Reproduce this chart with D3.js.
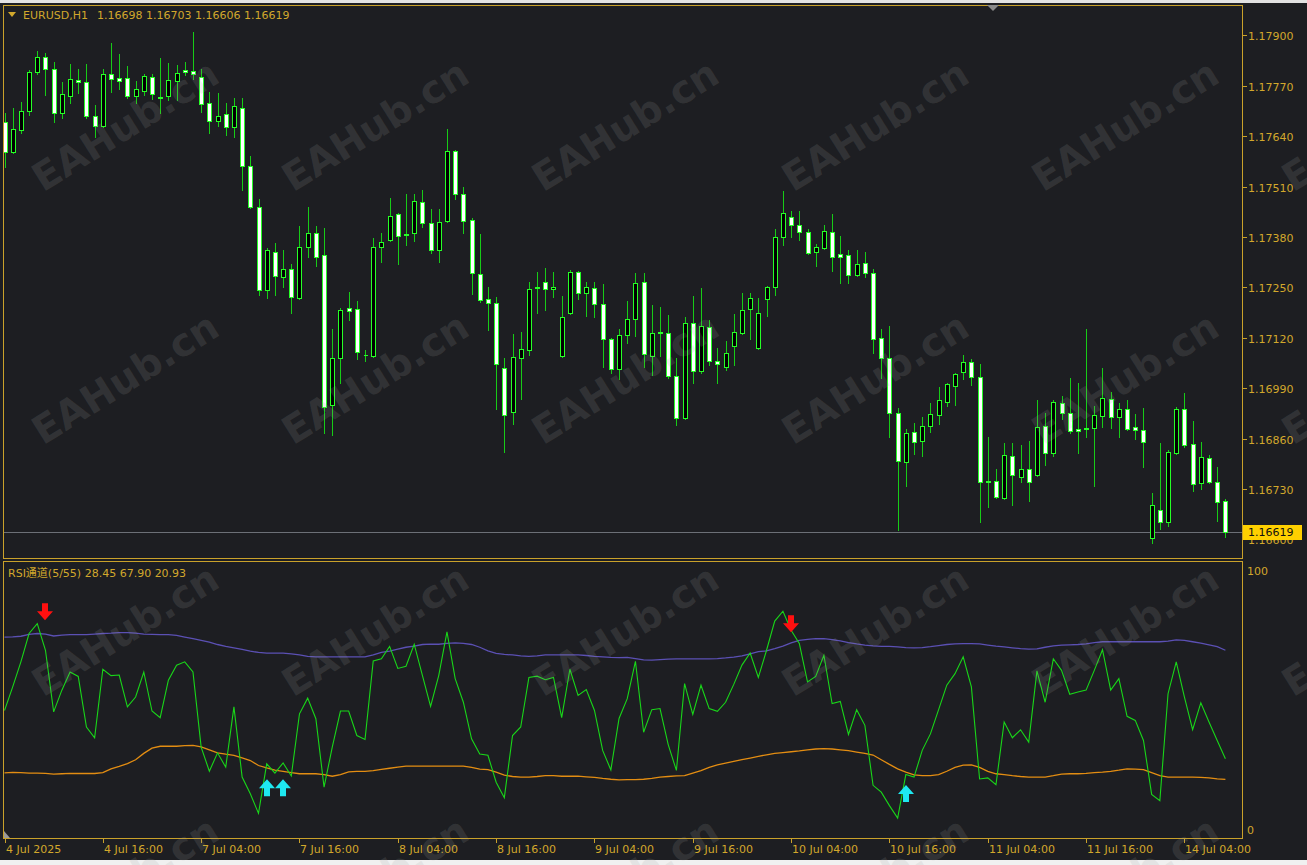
<!DOCTYPE html>
<html>
<head>
<meta charset="utf-8">
<script src="https://cdn.jsdelivr.net/npm/d3@7"></script>
<style>
html, body { margin: 0; padding: 0; background: #1d1e22; overflow: hidden; }
svg { display: block; }
text { font-family: "DejaVu Sans", "Noto Sans CJK SC", sans-serif; }
</style>
</head>
<body>
<div id="chart"></div>
<script>
var symbolTitle = 'EURUSD,H1';
var rsiTitle = 'RSI通道(5/55)';
var watermarkText = 'EAHub.cn';

// EURUSD H1 bars, 4 Jul 2025 04:00 .. 14 Jul 2025 09:00
var opens = [
  1.17676,1.17599,1.17656,1.17705,1.17805,1.17844,1.17813,1.17700,1.17743,1.17785,
  1.17780,1.17692,1.17666,1.17800,1.17790,1.17790,1.17743,1.17756,1.17792,1.17741,
  1.17743,1.17782,1.17810,1.17808,1.17792,1.17725,1.17679,1.17697,1.17663,1.17712,
  1.17563,1.17457,1.17243,1.17341,1.17277,1.17297,1.17222,1.17354,1.17390,1.17333,
  1.16946,1.17068,1.17197,1.17194,1.17076,1.17073,1.17354,1.17372,1.17439,1.17387,
  1.17390,1.17470,1.17416,1.17346,1.17421,1.17601,1.17491,1.17424,1.17284,1.17220,
  1.17210,1.17042,1.16928,1.17068,1.17088,1.17251,1.17264,1.17246,1.17073,1.17184,
  1.17290,1.17235,1.17248,1.17207,1.17117,1.17039,1.17127,1.17168,1.17264,1.17073,
  1.17135,1.17132,1.17021,1.16913,1.17158,1.17034,1.17148,1.17060,1.17045,1.17099,
  1.17132,1.17194,1.17094,1.17220,1.17251,1.17380,1.17431,1.17411,1.17393,1.17341,
  1.17351,1.17393,1.17336,1.17333,1.17282,1.17313,1.17287,1.17119,1.17068,1.16926,
  1.16800,1.16877,1.16854,1.16892,1.16921,1.16954,1.16996,1.17032,1.17058,1.17019,
  1.16748,1.16750,1.16707,1.16815,1.16761,1.16781,1.16766,1.16892,1.16823,1.16952,
  1.16926,1.16885,1.16885,1.16887,1.16918,1.16962,1.16916,1.16936,1.16890,1.16882,
  1.16604,1.16676,1.16645,1.16823,1.16936,1.16846,1.16745,1.16810,1.16748,1.16698
];
var highs = [
  1.17700,1.17712,1.17728,1.17810,1.17859,1.17854,1.17831,1.17780,1.17826,1.17813,
  1.17826,1.17720,1.17813,1.17880,1.17852,1.17821,1.17782,1.17800,1.17800,1.17841,
  1.17828,1.17823,1.17831,1.17908,1.17813,1.17754,1.17751,1.17725,1.17738,1.17738,
  1.17589,1.17478,1.17351,1.17364,1.17346,1.17310,1.17408,1.17457,1.17408,1.17403,
  1.17143,1.17197,1.17238,1.17215,1.17088,1.17377,1.17390,1.17480,1.17442,1.17491,
  1.17491,1.17501,1.17452,1.17452,1.17658,1.17604,1.17509,1.17429,1.17387,1.17251,
  1.17225,1.17068,1.17130,1.17135,1.17264,1.17290,1.17300,1.17290,1.17228,1.17295,
  1.17292,1.17264,1.17264,1.17259,1.17119,1.17143,1.17215,1.17287,1.17287,1.17204,
  1.17199,1.17179,1.17068,1.17173,1.17228,1.17248,1.17166,1.17094,1.17112,1.17181,
  1.17235,1.17235,1.17222,1.17253,1.17400,1.17498,1.17447,1.17447,1.17400,1.17362,
  1.17411,1.17439,1.17382,1.17346,1.17346,1.17341,1.17297,1.17143,1.17150,1.16939,
  1.16885,1.16900,1.16916,1.16952,1.16993,1.17003,1.17029,1.17076,1.17065,1.17052,
  1.16864,1.16781,1.16848,1.16848,1.16843,1.16854,1.16959,1.16926,1.16959,1.16970,
  1.17016,1.17003,1.17143,1.16944,1.17042,1.16980,1.16952,1.16959,1.16923,1.16939,
  1.16720,1.16848,1.16830,1.16941,1.16978,1.16905,1.16851,1.16818,1.16787,1.16703
];
var lows = [
  1.17560,1.17596,1.17648,1.17694,1.17800,1.17746,1.17676,1.17687,1.17725,1.17751,
  1.17687,1.17638,1.17663,1.17754,1.17761,1.17738,1.17725,1.17746,1.17736,1.17700,
  1.17733,1.17733,1.17798,1.17787,1.17702,1.17648,1.17666,1.17643,1.17638,1.17501,
  1.17455,1.17230,1.17222,1.17230,1.17251,1.17184,1.17220,1.17328,1.17305,1.16874,
  1.16869,1.17003,1.17166,1.17065,1.17060,1.17070,1.17315,1.17369,1.17310,1.17359,
  1.17369,1.17406,1.17338,1.17315,1.17418,1.17478,1.17390,1.17233,1.17212,1.17140,
  1.16936,1.16825,1.16898,1.16962,1.17076,1.17184,1.17192,1.17225,1.17070,1.17181,
  1.17220,1.17176,1.17174,1.17045,1.17029,1.17014,1.17106,1.17124,1.17045,1.17024,
  1.17073,1.17016,1.16895,1.16910,1.17003,1.17029,1.17050,1.17003,1.17037,1.17050,
  1.17130,1.17117,1.17091,1.17176,1.17230,1.17359,1.17380,1.17372,1.17336,1.17305,
  1.17349,1.17292,1.17261,1.17261,1.17279,1.17277,1.17081,1.17016,1.16864,1.16624,
  1.16738,1.16820,1.16815,1.16877,1.16898,1.16944,1.16946,1.17014,1.16998,1.16645,
  1.16684,1.16707,1.16704,1.16689,1.16748,1.16699,1.16763,1.16792,1.16815,1.16910,
  1.16875,1.16823,1.16864,1.16738,1.16890,1.16887,1.16864,1.16882,1.16859,1.16787,
  1.16591,1.16627,1.16634,1.16820,1.16838,1.16725,1.16730,1.16745,1.16648,1.16606
];
var closes = [
  1.17599,1.17658,1.17705,1.17805,1.17844,1.17813,1.17700,1.17749,1.17787,1.17780,
  1.17692,1.17666,1.17800,1.17787,1.17782,1.17743,1.17761,1.17795,1.17749,1.17738,
  1.17785,1.17803,1.17805,1.17800,1.17723,1.17679,1.17692,1.17663,1.17718,1.17563,
  1.17457,1.17243,1.17346,1.17279,1.17297,1.17225,1.17354,1.17390,1.17328,1.16941,
  1.17068,1.17192,1.17189,1.17083,1.17076,1.17354,1.17367,1.17434,1.17382,1.17385,
  1.17473,1.17416,1.17346,1.17418,1.17601,1.17491,1.17421,1.17287,1.17217,1.17210,
  1.17052,1.16921,1.17070,1.17091,1.17246,1.17248,1.17246,1.17251,1.17173,1.17290,
  1.17235,1.17251,1.17207,1.17117,1.17039,1.17127,1.17168,1.17261,1.17078,1.17132,
  1.17132,1.17021,1.16913,1.17158,1.17034,1.17150,1.17060,1.17052,1.17081,1.17135,
  1.17192,1.17222,1.17184,1.17251,1.17380,1.17442,1.17411,1.17393,1.17338,1.17354,
  1.17395,1.17328,1.17328,1.17282,1.17310,1.17287,1.17117,1.17068,1.16926,1.16802,
  1.16874,1.16851,1.16892,1.16923,1.16959,1.17001,1.17027,1.17058,1.17019,1.16748,
  1.16750,1.16709,1.16818,1.16766,1.16781,1.16748,1.16890,1.16823,1.16954,1.16926,
  1.16880,1.16880,1.16887,1.16921,1.16965,1.16916,1.16936,1.16885,1.16882,1.16851,
  1.16689,1.16645,1.16825,1.16936,1.16843,1.16743,1.16812,1.16748,1.16697,1.16619
];

// RSI channel indicator
var rsi = [
  46.0,54.6,63.7,74.0,77.6,67.9,45.5,53.4,60.0,58.4,
  40.0,36.1,61.0,58.7,58.9,47.3,50.9,60.0,45.8,43.4,
  57.0,62.5,63.7,60.0,32.7,23.9,30.6,25.4,47.3,21.8,
  15.7,8.6,26.6,23.2,26.9,22.2,44.8,50.5,43.0,18.1,
  32.7,45.8,45.8,36.9,35.5,64.0,64.8,69.3,61.3,62.1,
  70.1,58.8,47.5,58.8,74.6,57.6,49.0,35.7,30.2,29.7,
  19.9,14.3,36.9,40.0,58.0,58.5,57.2,58.0,43.4,61.0,
  51.5,53.6,46.0,31.5,24.4,43.1,50.3,63.9,38.1,46.3,
  46.7,33.6,24.2,55.8,44.6,55.2,46.7,45.7,49.0,55.5,
  62.5,66.9,58.0,67.9,78.5,82.1,75.2,70.4,56.4,58.4,
  66.1,48.5,49.3,37.3,46.3,40.6,18.8,16.3,11.4,6.9,
  22.7,21.8,31.5,37.5,46.3,55.2,59.4,65.5,54.6,21.1,
  21.5,19.0,41.8,36.1,39.0,34.5,60.4,49.0,64.8,60.6,
  51.9,52.7,53.4,60.6,68.1,53.4,57.6,43.9,42.4,35.1,
  15.5,13.2,52.1,63.7,50.9,39.0,48.8,41.8,35.1,28.45
];
var upperBand = [
  72.7,72.8,73.0,73.7,74.0,73.8,73.1,73.4,73.6,73.6,
  73.6,73.8,74.0,74.1,74.3,74.3,74.1,73.8,73.7,73.6,
  73.6,73.3,72.7,72.1,71.5,70.9,70.0,69.3,68.8,68.2,
  67.6,67.1,66.9,66.9,66.9,66.6,66.2,65.7,65.5,65.5,
  65.5,65.5,65.5,65.5,65.5,66.2,67.1,67.6,68.3,69.0,
  69.4,70.0,70.1,70.1,70.4,70.6,70.4,70.0,69.0,67.7,
  66.8,66.4,66.2,65.9,65.7,65.9,66.2,66.2,66.2,66.2,
  66.2,66.0,65.7,65.5,65.3,65.2,65.3,64.9,64.4,64.3,
  64.5,64.7,64.8,64.8,64.8,64.8,64.8,64.9,65.1,65.4,
  65.9,66.6,67.4,67.7,68.5,69.4,70.6,71.5,71.9,72.1,
  72.1,71.8,71.3,70.7,70.2,69.8,69.5,69.3,69.3,69.1,
  68.9,68.8,68.9,69.2,69.6,70.0,70.2,70.3,70.3,70.2,
  69.8,69.4,69.1,68.8,68.5,68.3,68.4,69.0,69.5,69.8,
  69.9,70.0,70.2,70.7,71.0,71.0,71.0,71.0,71.0,71.0,
  71.0,71.0,71.2,71.7,71.5,71.0,70.5,69.9,69.2,67.90
];
var lowerBand = [
  23.3,23.5,23.4,23.2,23.2,23.1,22.9,23.0,23.1,23.1,
  23.1,23.1,23.4,24.8,25.7,26.7,28.1,30.4,32.3,33.0,
  33.0,33.0,33.2,33.3,32.8,31.7,30.6,30.1,29.7,28.8,
  27.8,26.0,25.1,24.3,23.9,23.4,23.0,23.0,23.0,22.7,
  22.1,22.7,23.7,23.9,23.9,24.1,24.6,25.0,25.4,25.8,
  25.8,25.8,25.8,25.8,25.8,25.8,25.8,25.3,24.7,24.5,
  23.6,22.5,22.0,21.8,21.8,22.0,22.3,22.3,22.1,22.1,
  22.1,21.9,21.7,21.3,21.0,20.8,20.9,20.9,21.0,21.3,
  21.8,22.0,22.2,22.3,23.2,24.1,25.3,26.2,26.9,27.5,
  28.1,28.7,29.3,29.9,30.4,30.7,31.0,31.3,31.7,32.0,
  32.1,32.0,31.7,31.4,30.9,30.4,29.8,28.1,26.4,24.8,
  23.6,22.6,22.3,22.3,22.7,23.9,25.3,26.1,26.2,25.3,
  23.9,23.0,22.7,22.3,22.0,21.8,21.8,21.8,22.3,22.9,
  23.0,23.0,23.1,23.4,23.6,23.9,24.3,24.8,24.7,24.5,
  23.4,22.3,21.8,21.8,21.8,21.8,21.7,21.5,21.1,20.93
];

var sellArrowBars = [5, 96];
var sellArrowLevels = [78.8, 74.5];
var buyArrowBars = [32, 34, 110];
var buyArrowLevels = [21.0, 21.0, 18.9];

var priceTicks = [1.17900, 1.17770, 1.17640, 1.17510, 1.17380, 1.17250, 1.17120, 1.16990, 1.16860, 1.16730, 1.16600];
var rsiTicks = [100, 0];
var timeTickBars = [0, 12, 24, 36, 48, 60, 72, 84, 96, 108, 120, 132, 144];
var timeTickLabels = ['4 Jul 2025', '4 Jul 16:00', '7 Jul 04:00', '7 Jul 16:00', '8 Jul 04:00', '8 Jul 16:00',
  '9 Jul 04:00', '9 Jul 16:00', '10 Jul 04:00', '10 Jul 16:00', '11 Jul 04:00', '11 Jul 16:00', '14 Jul 04:00'];

var W = 1307, H = 865;
var gold = '#d2a82c', frame = '#c9a12a';
var plotL = 3.5, plotR = 1242.5;
var mainTop = 5.5, mainBot = 558.5;
var subTop = 561.5, subBot = 838.5;

var svg = d3.select('#chart').append('svg').attr('width', W).attr('height', H);

svg.append('rect').attr('width', W).attr('height', H).attr('fill', '#1d1e22');
svg.append('rect').attr('width', W).attr('height', 3).attr('fill', '#e2e2e2');
svg.append('rect').attr('y', 860).attr('width', W).attr('height', 5).attr('fill', '#f0f0f0');

var x = d3.scaleLinear().domain([0, 149]).range([4.5, 1225.4]);
var y = d3.scaleLinear().domain([1.166, 1.179]).range([539.4, 35.3]);
var ry = d3.scaleLinear().domain([0, 100]).range([837, 562]);

var defs = svg.append('defs');
defs.append('clipPath').attr('id', 'clipMain').append('rect')
  .attr('x', plotL + 0.5).attr('y', mainTop + 0.5).attr('width', plotR - plotL - 1).attr('height', mainBot - mainTop - 1);
defs.append('clipPath').attr('id', 'clipSub').append('rect')
  .attr('x', plotL + 0.5).attr('y', subTop + 0.5).attr('width', plotR - plotL - 1).attr('height', subBot - subTop - 1);

// current bid line
var bid = closes[closes.length - 1];
var bidY = Math.round(y(bid)) + 0.5;
svg.append('line').attr('x1', plotL).attr('x2', plotR).attr('y1', bidY).attr('y2', bidY)
  .attr('stroke', '#6c7077').attr('stroke-width', 1);

// candles
var bars = d3.range(opens.length).map(function(i) {
  return { i: i, o: opens[i], h: highs[i], l: lows[i], c: closes[i] };
});
var candles = svg.append('g').attr('clip-path', 'url(#clipMain)').attr('shape-rendering', 'crispEdges');

candles.selectAll('line.wick').data(bars).enter().append('line')
  .attr('class', 'wick')
  .attr('x1', function(d) { return Math.round(x(d.i)) + 0.5; })
  .attr('x2', function(d) { return Math.round(x(d.i)) + 0.5; })
  .attr('y1', function(d) { return Math.round(y(d.h)); })
  .attr('y2', function(d) { return Math.round(y(d.l)) + 1; })
  .attr('stroke', '#17cc17').attr('stroke-width', 1);

candles.selectAll('path.body').data(bars).enter().append('path')
  .attr('class', 'body')
  .attr('d', function(d) {
    var cx = Math.round(x(d.i));
    var t = Math.round(y(Math.max(d.o, d.c))) + 0.5;
    var b = Math.round(y(Math.min(d.o, d.c))) + 0.5;
    return 'M' + (cx - 1.5) + ',' + t + 'H' + (cx + 2.5) + 'V' + b + 'H' + (cx - 1.5) + 'Z';
  })
  .attr('fill', function(d) { return d.c < d.o ? '#ffffff' : '#000000'; })
  .attr('stroke', '#26ff26').attr('stroke-width', 1);

// RSI lines
var line = function(values) {
  return d3.line().x(function(d, i) { return x(i); }).y(function(d) { return ry(d); })(values);
};
var sub = svg.append('g').attr('clip-path', 'url(#clipSub)');
sub.append('path').attr('d', line(upperBand)).attr('fill', 'none').attr('stroke', '#5b50b4').attr('stroke-width', 1.3);
sub.append('path').attr('d', line(lowerBand)).attr('fill', 'none').attr('stroke', '#e38d12').attr('stroke-width', 1.3);
sub.append('path').attr('d', line(rsi)).attr('fill', 'none').attr('stroke', '#19d619').attr('stroke-width', 1.1);

// signal arrows
var downArrow = 'M-3,-17L3,-17L3,-9L8,-9L0,0L-8,-9L-3,-9Z';
var upArrow = 'M-3,17L3,17L3,9L8,9L0,0L-8,9L-3,9Z';
sellArrowBars.forEach(function(b, k) {
  sub.append('path').attr('d', downArrow).attr('fill', '#ff1010')
    .attr('transform', 'translate(' + Math.round(x(b)) + ',' + ry(sellArrowLevels[k]) + ')');
});
buyArrowBars.forEach(function(b, k) {
  sub.append('path').attr('d', upArrow).attr('fill', '#1ee8f0')
    .attr('transform', 'translate(' + Math.round(x(b)) + ',' + ry(buyArrowLevels[k]) + ')');
});

// panel frames
svg.append('rect').attr('x', plotL).attr('y', mainTop).attr('width', plotR - plotL).attr('height', mainBot - mainTop)
  .attr('fill', 'none').attr('stroke', frame).attr('stroke-width', 1).attr('shape-rendering', 'crispEdges');
svg.append('rect').attr('x', plotL).attr('y', subTop).attr('width', plotR - plotL).attr('height', subBot - subTop)
  .attr('fill', 'none').attr('stroke', frame).attr('stroke-width', 1).attr('shape-rendering', 'crispEdges');

// price axis
var pa = svg.append('g');
priceTicks.forEach(function(p) {
  var ty = Math.round(y(p)) + 0.5;
  pa.append('line').attr('x1', plotR).attr('x2', plotR + 4).attr('y1', ty).attr('y2', ty)
    .attr('stroke', frame).attr('shape-rendering', 'crispEdges');
  pa.append('text').attr('x', 1248).attr('y', ty + 4).attr('fill', gold).attr('font-size', 11)
    .text(d3.format('.5f')(p));
});
svg.append('rect').attr('x', 1243).attr('y', Math.round(y(bid)) - 7).attr('width', 59).attr('height', 15).attr('fill', '#ffd000');
svg.append('text').attr('x', 1248).attr('y', Math.round(y(bid)) + 4).attr('fill', '#111').attr('font-size', 11)
  .text(d3.format('.5f')(bid));

// rsi axis
rsiTicks.forEach(function(v) {
  svg.append('text').attr('x', 1247).attr('y', v === 100 ? ry(v) + 13 : ry(v) - 3)
    .attr('fill', gold).attr('font-size', 11).text(v);
});

// time axis
timeTickBars.forEach(function(b, k) {
  var tx = Math.round(x(b)) + 0.5;
  svg.append('line').attr('x1', tx).attr('x2', tx).attr('y1', subBot).attr('y2', subBot + 4)
    .attr('stroke', frame).attr('shape-rendering', 'crispEdges');
  svg.append('text').attr('x', tx + 0.5).attr('y', 853).attr('fill', gold).attr('font-size', 11).text(timeTickLabels[k]);
});

// titles
svg.append('path').attr('d', 'M8,12L16,12L12,17Z').attr('fill', gold);
var last = opens.length - 1;
svg.append('text').attr('x', 23).attr('y', 19).attr('fill', gold).attr('font-size', 11).text(symbolTitle);
svg.append('text').attr('x', 97).attr('y', 19).attr('fill', gold).attr('font-size', 11)
  .text([opens[last], highs[last], lows[last], closes[last]].map(d3.format('.5f')).join(' '));
svg.append('text').attr('x', 8).attr('y', 577).attr('fill', gold).attr('font-size', 11)
  .text(rsiTitle + ' ' + [rsi[last], upperBand[last], lowerBand[last]].map(d3.format('.2f')).join(' '));

// small markers
svg.append('path').attr('d', 'M987,5L999,5L993,11Z').attr('fill', '#8a8a8a');
svg.append('path').attr('d', 'M4,831L4,838L10,838Z').attr('fill', '#9a9a9a');

// watermark grid
var wm = svg.append('g').attr('pointer-events', 'none');
[125, 378, 630, 882].forEach(function(cy) {
  [125, 375, 625, 875, 1125, 1375].forEach(function(cx) {
    wm.append('text').attr('transform', 'translate(' + cx + ',' + cy + ') rotate(-32)')
      .attr('text-anchor', 'middle').attr('dy', 14)
      .attr('font-family', '"Liberation Sans", Arial, sans-serif').attr('font-weight', 'bold')
      .attr('font-size', 39).attr('fill', 'rgba(160,160,160,0.17)')
      .text(watermarkText);
  });
});
</script>
</body>
</html>
